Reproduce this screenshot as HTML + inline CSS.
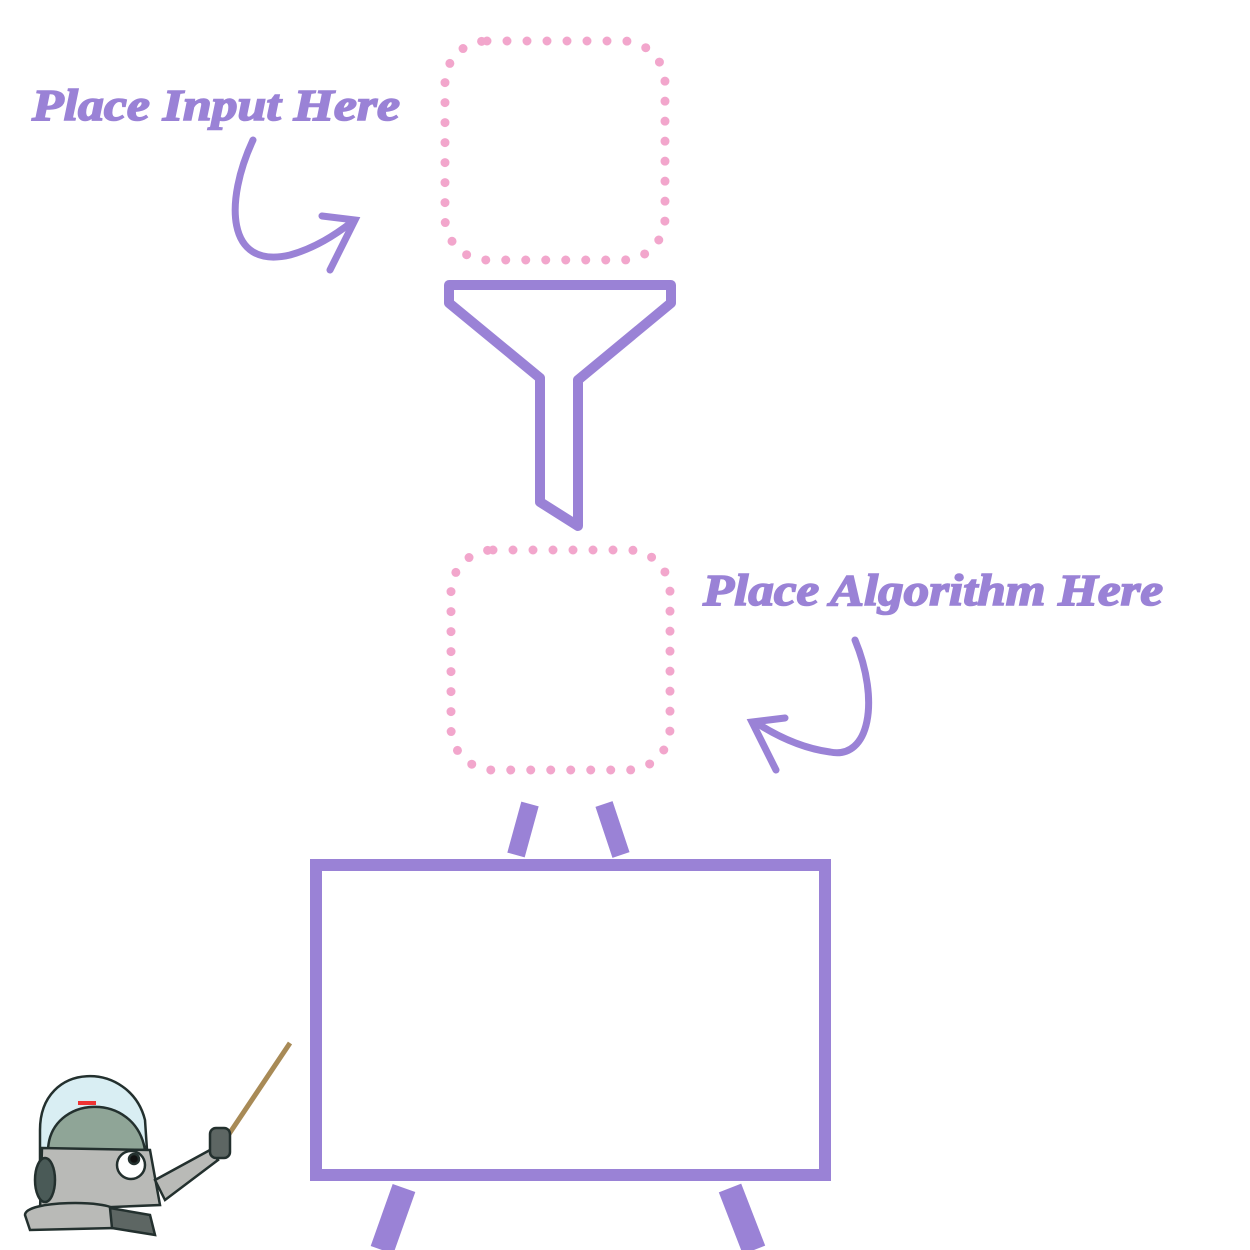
<!DOCTYPE html>
<html><head><meta charset="utf-8"><style>
html,body{margin:0;padding:0;background:#fff;}
svg{display:block}
.t{font-family:"Liberation Serif",serif;font-style:italic;font-weight:bold;fill:#9a82d6;stroke:#9a82d6;stroke-width:1.6;}
</style></head><body>
<svg width="1250" height="1250" viewBox="0 0 1250 1250">
<text class="t" x="32" y="120" font-size="44" textLength="368" lengthAdjust="spacingAndGlyphs">Place Input Here</text>
<text class="t" x="703" y="605" font-size="44" textLength="460" lengthAdjust="spacingAndGlyphs">Place Algorithm Here</text>

<g fill="none" stroke="#9a82d6" stroke-width="7" stroke-linecap="round">
<path d="M253,140 C225,200 225,270 290,255 C315,248 335,235 352,222"/>
<path d="M322,216 L355,220 L330,270"/>
</g>
<g fill="none" stroke="#9a82d6" stroke-width="7" stroke-linecap="round">
<path d="M855,640 C880,700 870,760 830,752 C800,748 775,735 755,722"/>
<path d="M785,718 L752,722 L776,770"/>
</g>

<rect x="445" y="41" width="220" height="219" rx="42" fill="none" stroke="#f2a6cc" stroke-width="9" stroke-linecap="round" stroke-dasharray="0 20"/>
<rect x="451" y="550" width="219" height="220" rx="42" fill="none" stroke="#f2a6cc" stroke-width="9" stroke-linecap="round" stroke-dasharray="0 20"/>

<path d="M449,285 L671,285 L671,303 L578,380 L578,526 L540,502 L540,378 L449,303 Z" fill="none" stroke="#9a82d6" stroke-width="10" stroke-linejoin="round"/>

<g stroke="#9a82d6" stroke-linecap="butt">
<line x1="530" y1="804" x2="516" y2="855" stroke-width="18"/>
<line x1="604" y1="804" x2="621" y2="855" stroke-width="18"/>
<line x1="404" y1="1188" x2="382" y2="1250" stroke-width="24"/>
<line x1="730" y1="1188" x2="754" y2="1250" stroke-width="24"/>
<rect x="316" y="865" width="509" height="310" fill="#fff" stroke-width="12"/>
</g>

<g stroke="#23302e" stroke-width="2.5">
<line x1="225" y1="1140" x2="290" y2="1043" stroke="#a88a56" stroke-width="5"/>
<path d="M40,1130 C40,1060 130,1060 145,1120 L150,1195 L40,1195 Z" fill="#d9eef3"/>
<path d="M48,1150 C50,1095 135,1090 145,1150 Z" fill="#8fa597"/>
<rect x="78" y="1101" width="18" height="4" fill="#e33" stroke="none"/>
<path d="M42,1148 L150,1150 L160,1205 L40,1210 Z" fill="#b9bab7"/>
<ellipse cx="45" cy="1180" rx="10" ry="22" fill="#4a5a57"/>
<circle cx="131" cy="1165" r="14" fill="#fff"/>
<circle cx="134" cy="1159" r="5" fill="#111"/>
<path d="M155,1180 L210,1150 L218,1160 L165,1200 Z" fill="#b9bab7"/>
<rect x="210" y="1128" width="20" height="30" rx="6" fill="#5d6663"/>
<path d="M25,1215 C25,1200 110,1200 115,1210 L115,1228 L30,1230 Z" fill="#b9bab7"/>
<path d="M110,1208 L150,1215 L155,1235 L112,1228 Z" fill="#5d6663"/>
</g>
</svg>
</body></html>
